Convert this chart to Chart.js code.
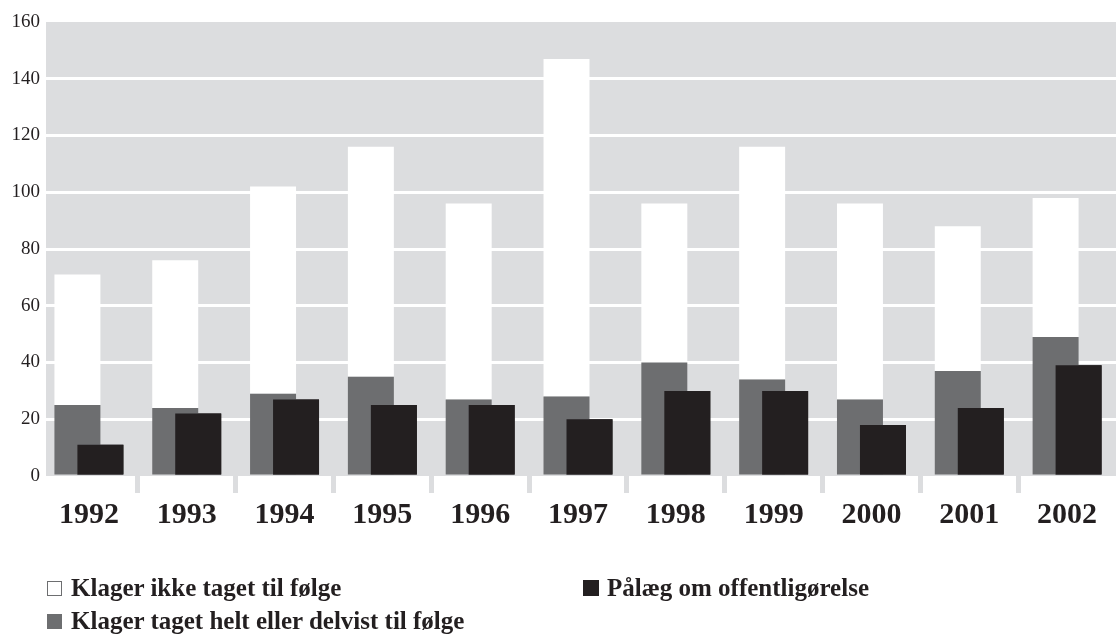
<!DOCTYPE html>
<html>
<head>
<meta charset="utf-8">
<script src="https://cdn.jsdelivr.net/npm/chart.js@4/dist/chart.umd.min.js"></script>
<style>
  html, body { margin: 0; padding: 0; background: #fff; overflow: hidden; }
  #wrap { position: relative; width: 1116px; height: 644px; }
  .item { position: absolute; height: 20px; display: flex; align-items: center;
          font: bold 25px "Liberation Serif", serif; color: #231f20; white-space: nowrap; }
  .box { width: 15px; height: 15px; box-sizing: border-box; margin-right: 9px; }
</style>
</head>
<body>
<div id="wrap">
  <canvas id="myChart" width="1116" height="644"></canvas>
  <div class="item" style="left:47px; top:578px;"><span class="box" style="background:#fff; border:1px solid #6d6e70;"></span>Klager ikke taget til følge</div>
  <div class="item" style="left:583px; top:578px;"><span class="box" style="background:#231f20; width:16px; height:16px; margin-right:8px;"></span>Pålæg om offentligørelse</div>
  <div class="item" style="left:47px; top:611px;"><span class="box" style="background:#6d6e70;"></span>Klager taget helt eller delvist til følge</div>
</div>
<script>
const years = ['1992', '1993', '1994', '1995', '1996', '1997', '1998', '1999', '2000', '2001', '2002'];
// klager taget helt eller delvist til følge (grå)
const upheld = [25, 24, 29, 35, 27, 28, 40, 34, 27, 37, 49];
// klager ikke taget til følge (hvid, stablet oven på grå)
const notUpheld = [46, 52, 73, 81, 69, 119, 56, 82, 69, 51, 49];
// pålæg om offentliggørelse (sort)
const published = [11, 22, 27, 25, 25, 20, 30, 30, 18, 24, 39];
const yTicks = [0, 20, 40, 60, 80, 100, 120, 140, 160];

const ink = '#231f20';

// grå baggrund i plotområdet
const plotBg = {
    id: 'plotBg',
    beforeDraw(chart) {
        const a = chart.chartArea;
        const ctx = chart.ctx;
        ctx.save();
        ctx.fillStyle = '#dcdddf';
        ctx.fillRect(a.left + 6, a.top, a.right - a.left - 6, a.bottom - a.top);
        ctx.restore();
    }
};

// sorte søjler skal ligge over de grå
const blackOnTop = {
    id: 'blackOnTop',
    afterDatasetsDraw(chart) {
        chart.getDatasetMeta(2).controller.draw();
    }
};

let ctx = document.getElementById('myChart');
const myChart = new Chart(ctx, {
    type: 'bar',
    data: {
        labels: years,
        datasets: [{
            label: 'Klager taget helt eller delvist til følge',
            data: upheld,
            stack: 'a',
            backgroundColor: '#6d6e70',
            borderWidth: 0
        }, {
            label: 'Klager ikke taget til følge',
            data: notUpheld,
            stack: 'a',
            backgroundColor: '#ffffff',
            borderWidth: 0
        }, {
            label: 'Pålæg om offentligørelse',
            data: published,
            stack: 'b',
            backgroundColor: ink,
            borderWidth: 0
        }]
    },
    options: {
        responsive: false,
        animation: false,
        categoryPercentage: 0.47,
        barPercentage: 2.0,
        layout: {
            padding: { top: 22, left: 10, right: 0, bottom: 0 }
        },
        plugins: {
            legend: { display: false },
            tooltip: { enabled: false }
        },
        scales: {
            x: {
                stacked: true,
                border: { display: false },
                grid: {
                    offset: true,
                    drawOnChartArea: false,
                    tickLength: 17,
                    lineWidth: 5,
                    color: (c) => (c.index > 0 && c.index < years.length) ? '#dcdddf' : 'rgba(0,0,0,0)'
                },
                ticks: {
                    color: ink,
                    padding: 4,
                    font: { family: 'Liberation Serif', size: 30, weight: 'bold' }
                },
                afterFit: (scale) => { scale.height = 168; }
            },
            y: {
                stacked: true,
                min: 0,
                max: 160,
                border: { display: false },
                grid: {
                    drawTicks: false,
                    lineWidth: 3,
                    color: (c) => (c.tick && c.tick.value > 0 && c.tick.value < 160) ? '#ffffff' : 'rgba(0,0,0,0)'
                },
                afterBuildTicks: (scale) => { scale.ticks = yTicks.map(v => ({ value: v })); },
                ticks: {
                    color: ink,
                    padding: 0,
                    font: { family: 'Liberation Serif', size: 19 }
                },
                afterFit: (scale) => { scale.width = 30; }
            }
        }
    },
    plugins: [plotBg, blackOnTop]
});
</script>
</body>
</html>
